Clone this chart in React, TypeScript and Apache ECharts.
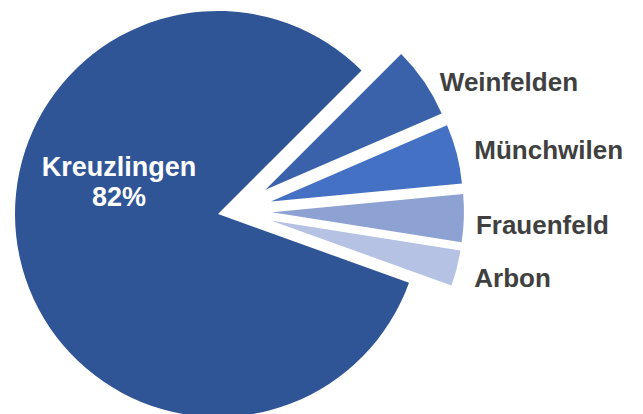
import React, { useEffect, useRef } from "react";
import * as echarts from "echarts";

const categories = ["Weinfelden", "Münchwilen", "Frauenfeld", "Arbon", "Kreuzlingen"];
const values = [6, 5, 4, 3, 82];
const colors = ["#3A62AA", "#4471C4", "#8EA1D3", "#B5C2E3", "#2F5597"];
const labelNudgeX = [-9, -9, -15, -9, 0];
const labelNudgeY = [8, 0, 6, 6, 0];

export default function App() {
  const ref = useRef<HTMLDivElement>(null);
  useEffect(() => {
    document.body.style.margin = "0";
    const chart = echarts.init(ref.current!, null, { renderer: "svg" });
    const bigIdx = categories.length - 1;
    const font = "'Liberation Sans', Arial, sans-serif";
    chart.setOption({
      animation: false,
      backgroundColor: "#ffffff",
      series: [
        {
          type: "pie",
          center: [218, 214],
          radius: 203,
          startAngle: 45,
          clockwise: true,
          silent: true,
          avoidLabelOverlap: false,
          data: categories.map((name, i) => ({
            name,
            value: values[i],
            itemStyle: { color: i === bigIdx ? colors[i] : "transparent", borderWidth: 0 },
            label:
              i === bigIdx
                ? {
                    show: true,
                    position: "inside",
                    formatter: "{b}\n{d}%",
                    color: "#ffffff",
                    fontSize: 27,
                    fontWeight: "bold",
                    fontFamily: font,
                    lineHeight: 30,
                    offset: [3, -55],
                  }
                : { show: false },
            labelLine: { show: false },
          })),
        },
        {
          type: "pie",
          center: [234, 211],
          radius: 192,
          startAngle: 45,
          clockwise: true,
          selectedMode: "multiple",
          selectedOffset: 38,
          silent: true,
          avoidLabelOverlap: false,
          select: { itemStyle: { borderWidth: 0 } },
          labelLayout: (p: any) => ({
            dx: labelNudgeX[p.dataIndex],
            dy: labelNudgeY[p.dataIndex],
          }),
          data: categories.map((name, i) => ({
            name,
            value: values[i],
            selected: i !== bigIdx,
            itemStyle: { color: i === bigIdx ? "transparent" : colors[i], borderWidth: 0 },
            select: { itemStyle: { color: i === bigIdx ? "transparent" : colors[i], borderWidth: 0 } },
            label:
              i === bigIdx
                ? { show: false }
                : {
                    show: true,
                    position: "outside",
                    formatter: "{b}",
                    color: "#404040",
                    fontSize: 26,
                    fontWeight: "bold",
                    fontFamily: font,
                  },
            labelLine: { show: false, length: 14, length2: 8 },
          })),
        },
      ],
    });
    return () => chart.dispose();
  }, []);
  return <div ref={ref} style={{ width: 643, height: 414 }} />;
}
